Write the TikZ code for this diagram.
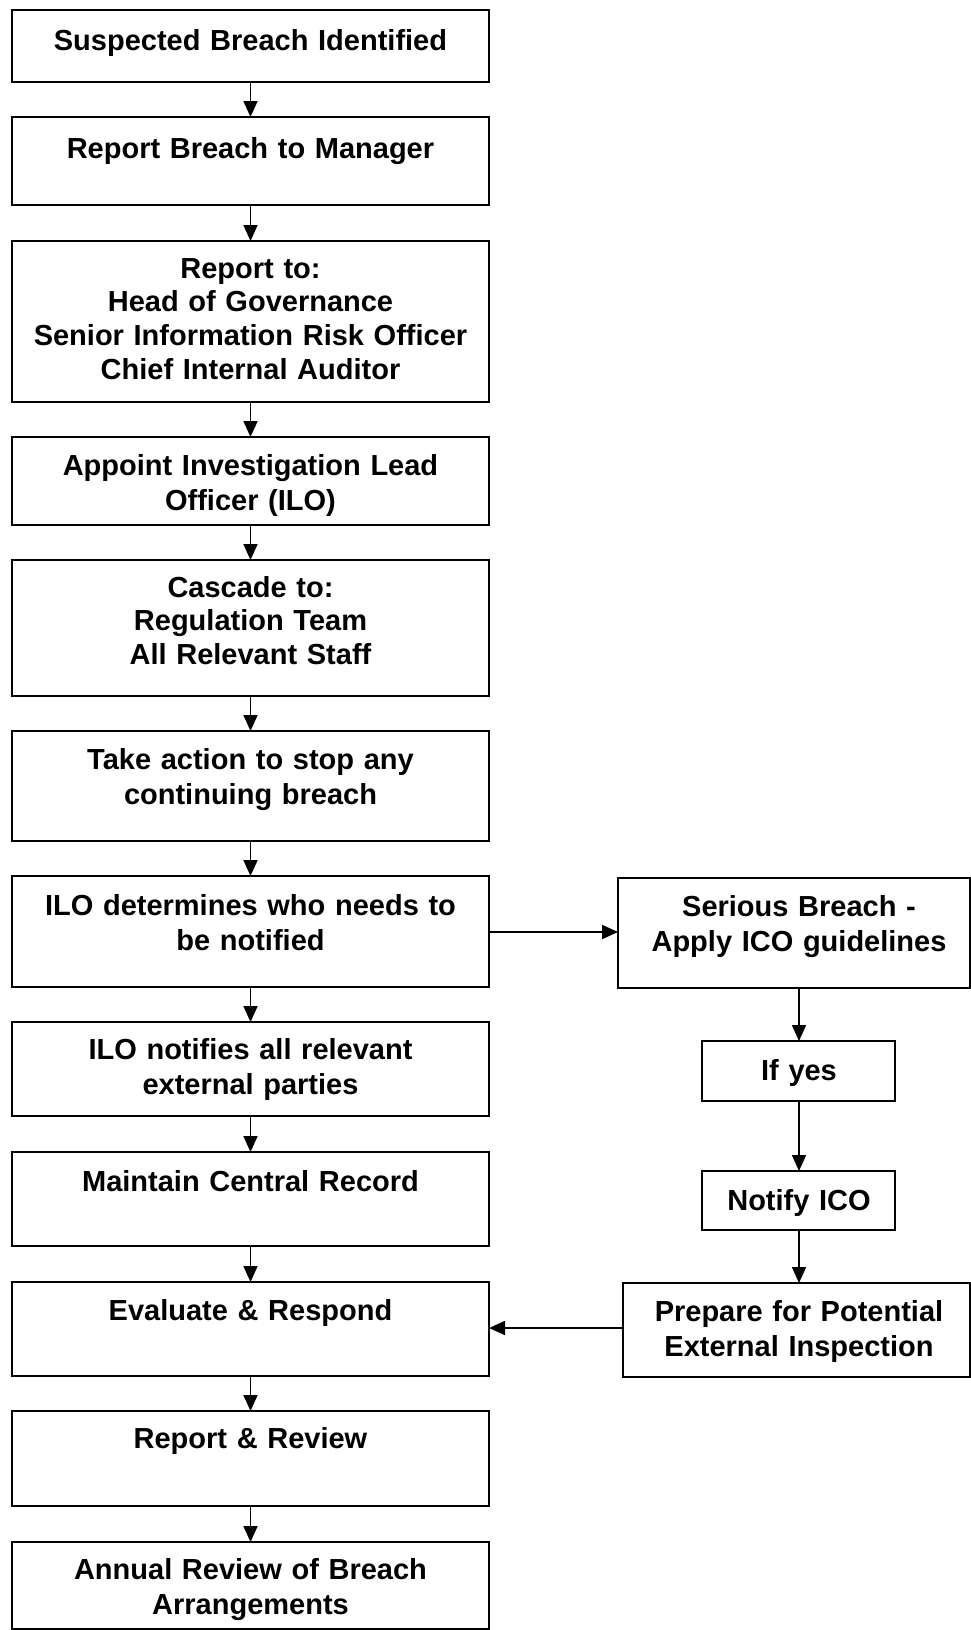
\documentclass[tikz,border=0pt]{standalone}
\usepackage{fontspec}
\setmainfont{Liberation Sans}
\usetikzlibrary{arrows.meta}
\tikzset{
  box/.style={draw=black, line width=2pt, inner sep=0pt, outer sep=0pt, fill=white},
  txt/.style={inner sep=0pt, outer sep=0pt, align=center, text width=470pt, anchor=base,
    font=\fontsize{29}{33.7}\selectfont\bfseries},
  txttwo/.style={txt, font=\fontsize{29}{35}\selectfont\bfseries},
  arr/.style={draw=black, line width=1.8pt, -{Triangle[length=16pt,width=14pt]}}
}
\newcommand{\bx}[5]{%
  \node[box, minimum width={(#4-#2)*1pt}, minimum height={(#5-#3)*1pt}] (#1) at ({(#2+#4)/2},{(#3+#5)/2}) {};
}
\begin{document}
\begin{tikzpicture}[x=1pt,y=-1pt]
\useasboundingbox (0,0) rectangle (971,1630);
% left column
\bx{b1}{12}{10}{489}{82}
\bx{b2}{12}{117}{489}{205}
\bx{b3}{12}{241}{489}{402}
\bx{b4}{12}{437}{489}{525}
\bx{b5}{12}{560}{489}{696}
\bx{b6}{12}{731}{489}{841}
\bx{b7}{12}{876}{489}{987}
\bx{b8}{12}{1022}{489}{1116}
\bx{b9}{12}{1152}{489}{1246}
\bx{b10}{12}{1282}{489}{1376}
\bx{b11}{12}{1411}{489}{1506}
\bx{b12}{12}{1542}{489}{1629}
% right column
\bx{s1}{618}{878}{970}{988}
\bx{s2}{702}{1041}{895}{1101}
\bx{s3}{702}{1171}{895}{1230}
\bx{s4}{623}{1283}{970}{1377}
% texts
\node[txt] (t1) at (250.5,50) {Suspected Breach Identified};
\node[txt] (t2) at (250.5,158) {Report Breach to Manager};
\node[txt] (t3) at (250.5,278) {Report to:\\Head of Governance\\Senior Information Risk Officer\\Chief Internal Auditor};
\node[txttwo] (t4) at (250.5,475) {Appoint Investigation Lead\\Officer (ILO)};
\node[txt] (t5) at (250.5,597) {Cascade to:\\Regulation Team\\All Relevant Staff};
\node[txttwo] (t6) at (250.5,769) {Take action to stop any\\continuing breach};
\node[txttwo] (t7) at (250.5,915) {ILO determines who needs to\\be notified};
\node[txttwo] (t8) at (250.5,1059) {ILO notifies all relevant\\external parties};
\node[txt] (t9) at (250.5,1191) {Maintain Central Record};
\node[txt] (t10) at (250.5,1320) {Evaluate \& Respond};
\node[txt] (t11) at (250.5,1448) {Report \& Review};
\node[txttwo] (t12) at (250.5,1579) {Annual Review of Breach\\Arrangements};
\node[txttwo, text width=340pt] (u1) at (799,916) {Serious Breach -\\Apply ICO guidelines};
\node[txt, text width=340pt] (u2) at (799,1080) {If yes};
\node[txt, text width=340pt] (u3) at (799,1210) {Notify ICO};
\node[txttwo, text width=340pt] (u4) at (799,1321) {Prepare for Potential\\External Inspection};
% connectors left
\foreach \a/\b in {b1/b2,b2/b3,b3/b4,b4/b5,b5/b6,b6/b7,b7/b8,b8/b9,b9/b10,b10/b11,b11/b12}
  \draw[arr] (\a.south) -- (\b.north);
% right column
\coordinate (rc) at (799,0);
\draw[arr] (s1.south -| rc) -- (s2.north -| rc);
\draw[arr] (s2.south -| rc) -- (s3.north -| rc);
\draw[arr] (s3.south -| rc) -- (s4.north -| rc);
% horizontals
\coordinate (h1) at (0,932);
\coordinate (h2) at (0,1328);
\draw[arr] (b7.east |- h1) -- (s1.west |- h1);
\draw[arr] (s4.west |- h2) -- (b10.east |- h2);
\end{tikzpicture}
\end{document}
